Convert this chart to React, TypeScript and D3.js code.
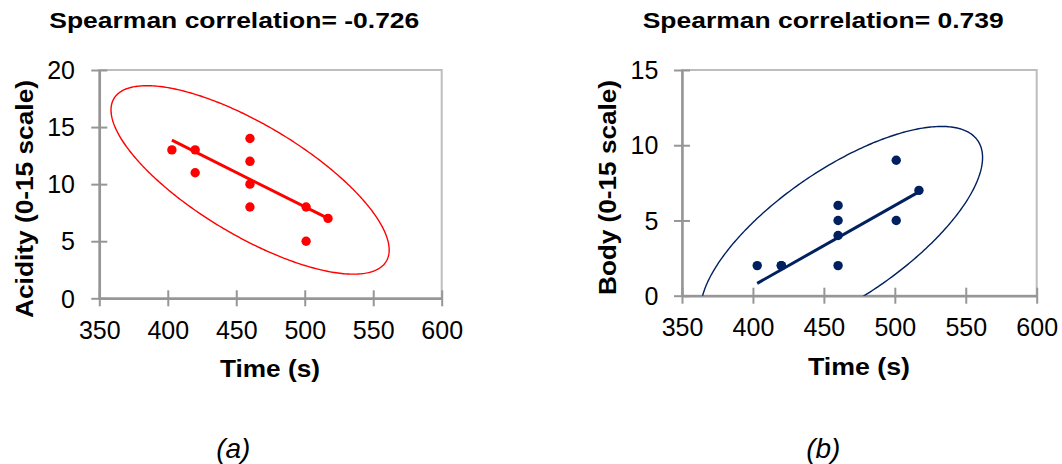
import React, { useEffect, useRef } from "react";
import * as d3 from "d3";

// ---- data ----
const timeSec = [403, 420, 420, 460, 460, 460, 460, 501, 501, 517];
const acidity = [13, 13, 11, 14, 12, 10, 8, 8, 5, 7];
const body = [2, 2, 2, 6, 5, 4, 2, 9, 5, 7];

const xTicks = [350, 400, 450, 500, 550, 600];
const acidityTicks = [0, 5, 10, 15, 20];
const bodyTicks = [0, 5, 10, 15];

// trend lines: [time, value] at both ends
const acidityTrend = [[403, 13.85], [517, 7.0]];
const bodyTrend = [[403, 0.82], [516, 6.85]];

// ellipses in data units: centre, first and second semi-axis vectors
const acidityEllipse = { c: [460.1, 10.37], u: [99.4, -7.13], v: [-20.76, -4.16] };
const bodyEllipse = { c: [462.5, 4.14], u: [96.0, 6.16], v: [25.55, -3.55] };

const titles = ["Spearman correlation= -0.726", "Spearman correlation= 0.739"];
const yLabels = ["Acidity (0-15 scale)", "Body (0-15 scale)"];
const xLabel = "Time (s)";
const captions = ["(a)", "(b)"];

const FONT = "'Liberation Sans', Arial, Helvetica, sans-serif";

const panels = [
  {
    values: acidity, yTicks: acidityTicks, trend: acidityTrend, ellipse: acidityEllipse,
    color: "#ff0000",
    xRange: [99.3, 441.7], yRange: [298.3, 70],
    title: { x: 49.3, len: 370 },
    xLab: { x: 270, y: 376.7, len: 100 },
    yLab: { x: 33, y: 199, len: 238 },
    cap: 233.3, yLabelGap: 24.3, xLabelBase: 41,
  },
  {
    values: body, yTicks: bodyTicks, trend: bodyTrend, ellipse: bodyEllipse,
    color: "#002060",
    xRange: [682, 1036.7], yRange: [295.7, 70],
    title: { x: 642.7, len: 361 },
    xLab: { x: 859, y: 375, len: 102 },
    yLab: { x: 616, y: 187.5, len: 215 },
    cap: 823.3, yLabelGap: 23.7, xLabelBase: 40.3,
  },
];

export default function App() {
  const ref = useRef(null);

  useEffect(() => {
    const svg = d3.select(ref.current);
    svg.selectAll("*").remove();
    const defs = svg.append("defs");

    panels.forEach((p, i) => {
      const ticksY = p.yTicks;
      var x = d3.scaleLinear().domain([350, 600]).range(p.xRange);
      var y = d3.scaleLinear().domain([0, d3.max(ticksY)]).range(p.yRange);
      const g = svg.append("g");

      const [x0, x1] = p.xRange;
      const [y0, y1] = p.yRange;

      defs.append("clipPath").attr("id", "plot" + i)
        .append("rect")
        .attr("x", x0).attr("y", y1).attr("width", x1 - x0).attr("height", y0 - y1);

      // plot frame
      g.append("rect")
        .attr("x", x0).attr("y", y1).attr("width", x1 - x0).attr("height", y0 - y1)
        .attr("fill", "none").attr("stroke", "#bdbdbd").attr("stroke-width", 2);

      // x axis
      const xa = g.append("g")
        .attr("transform", `translate(0,${y(0)})`)
        .call(d3.axisBottom(x).tickValues(xTicks).tickSizeOuter(0).tickFormat(d3.format("d")));
      xa.selectAll(".tick line").attr("y1", -8).attr("y2", 8);
      xa.selectAll(".tick text").attr("y", p.xLabelBase).attr("dy", 0);

      // y axis
      const ya = g.append("g")
        .attr("transform", `translate(${x0},0)`)
        .call(d3.axisLeft(y).tickValues(ticksY).tickSizeOuter(0).tickFormat(d3.format("d")));
      ya.selectAll(".tick line").attr("x1", -8).attr("x2", 8);
      ya.selectAll(".tick text").attr("x", -p.yLabelGap).attr("dy", "0.35em");

      [xa, ya].forEach((a) => {
        a.select(".domain").attr("stroke", "#969696").attr("stroke-width", 2.5);
        a.selectAll(".tick line").attr("stroke", "#969696").attr("stroke-width", 2);
        a.selectAll(".tick text")
          .attr("fill", "#000")
          .style("font-family", FONT)
          .style("font-size", "25px");
      });

      // ellipse
      const e = p.ellipse;
      const angles = d3.range(0, 2 * Math.PI, Math.PI / 180);
      const ellipseLine = d3.line()
        .x((t) => x(e.c[0] + e.u[0] * Math.cos(t) + e.v[0] * Math.sin(t)))
        .y((t) => y(e.c[1] + e.u[1] * Math.cos(t) + e.v[1] * Math.sin(t)))
        .curve(d3.curveLinearClosed);
      g.append("path")
        .attr("d", ellipseLine(angles))
        .attr("clip-path", `url(#plot${i})`)
        .attr("fill", "none")
        .attr("stroke", p.color)
        .attr("stroke-width", 1.4);

      // trend line
      g.append("path")
        .attr("d", d3.line().x((d) => x(d[0])).y((d) => y(d[1]))(p.trend))
        .attr("fill", "none")
        .attr("stroke", p.color)
        .attr("stroke-width", 3);

      // points
      g.selectAll("circle")
        .data(p.values)
        .join("circle")
        .attr("cx", (d, k) => x(timeSec[k]))
        .attr("cy", (d) => y(d))
        .attr("r", 4.7)
        .attr("fill", p.color);

      // title
      g.append("text")
        .attr("x", p.title.x).attr("y", 28.3)
        .attr("textLength", p.title.len).attr("lengthAdjust", "spacingAndGlyphs")
        .style("font-family", FONT).style("font-weight", "bold").style("font-size", "22px")
        .text(titles[i]);

      // axis titles
      g.append("text")
        .attr("x", p.xLab.x).attr("y", p.xLab.y)
        .attr("text-anchor", "middle")
        .attr("textLength", p.xLab.len).attr("lengthAdjust", "spacingAndGlyphs")
        .style("font-family", FONT).style("font-weight", "bold").style("font-size", "23px")
        .text(xLabel);

      g.append("text")
        .attr("transform", `translate(${p.yLab.x},${p.yLab.y}) rotate(-90)`)
        .attr("text-anchor", "middle")
        .attr("textLength", p.yLab.len).attr("lengthAdjust", "spacingAndGlyphs")
        .style("font-family", FONT).style("font-weight", "bold").style("font-size", "24px")
        .text(yLabels[i]);

      // caption
      g.append("text")
        .attr("x", p.cap).attr("y", 458)
        .attr("text-anchor", "middle")
        .style("font-family", FONT).style("font-style", "italic").style("font-size", "28px")
        .text(captions[i]);
    });
  }, []);

  return (
    <svg
      ref={ref}
      width={1062}
      height={464}
      style={{ position: "absolute", left: 0, top: 0, background: "#fff" }}
    />
  );
}
